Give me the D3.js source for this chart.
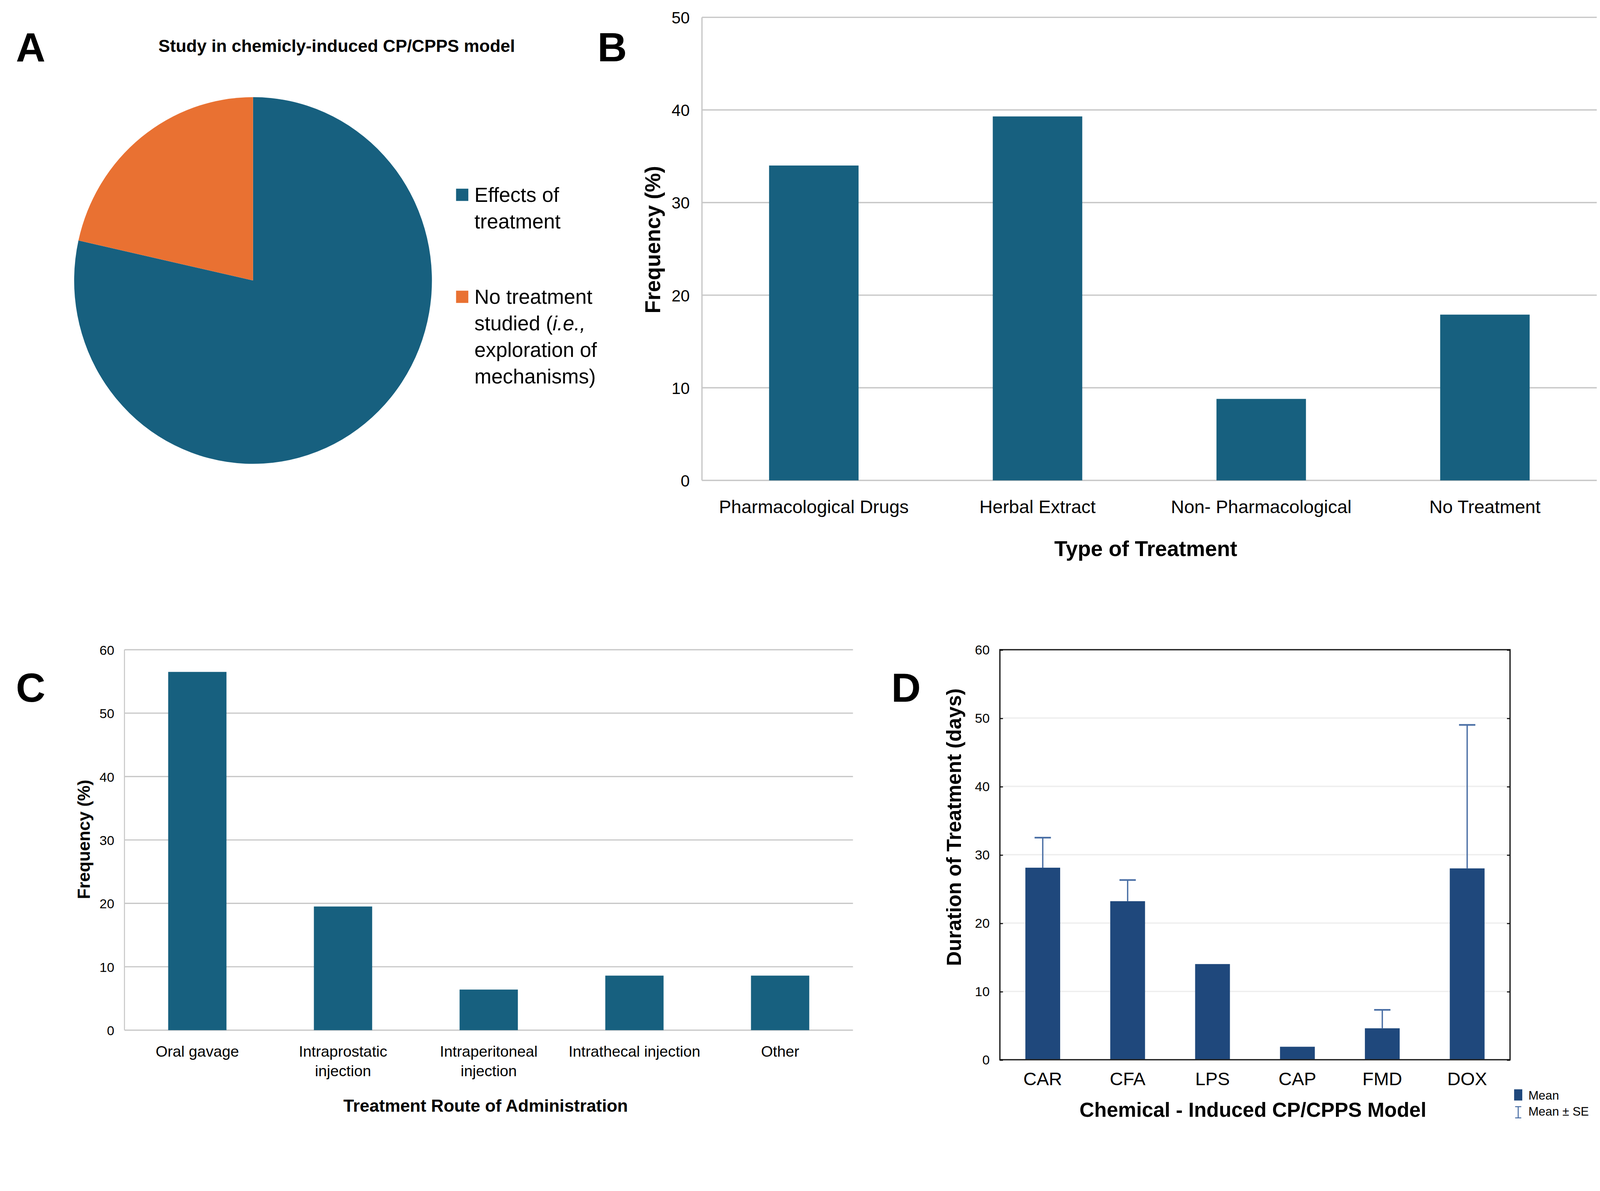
<!DOCTYPE html>
<html><head><meta charset="utf-8">
<script src="https://cdn.jsdelivr.net/npm/d3@7"></script>
<style>body{margin:0;background:#fff}text{font-family:"Liberation Sans",Arial,sans-serif}</style>
</head><body><svg id="c"></svg>
<script>
const pieLabels=["Effects of treatment","No treatment studied"];
const pieValues=[78.5,21.5];
const bCats=["Pharmacological Drugs","Herbal Extract","Non- Pharmacological","No Treatment"];
const bVals=[34.0,39.3,8.8,17.9];
const bTicks=[0,10,20,30,40,50];
const cCats=[["Oral gavage"],["Intraprostatic","injection"],["Intraperitoneal","injection"],["Intrathecal injection"],["Other"]];
const cVals=[56.5,19.5,6.4,8.6,8.6];
const cTicks=[0,10,20,30,40,50,60];
const dCats=["CAR","CFA","LPS","CAP","FMD","DOX"];
const dMeans=[28.1,23.2,14.0,1.9,4.6,28.0];
const dSEUpper=[32.5,26.3,null,null,7.3,49.0];
const dTicks=[0,10,20,30,40,50,60];

const W=1568*1.057,H=W*3050/4329;
const svg=d3.select("#c").attr("width",4329).attr("height",3050).attr("viewBox",`0 0 ${W} ${H}`);
const teal="#17607f",orange="#e97132",navy="#1f487c";
function letter(t,x,y){svg.append("text").attr("x",x).attr("y",y).attr("font-size",40).attr("font-weight","bold").attr("text-anchor","middle").text(t);}
letter("A",30,60);letter("B",600,60);letter("C",30,688);letter("D",888,688);

// Panel A
svg.append("text").attr("x",330).attr("y",51).attr("text-anchor","middle").attr("font-size",17).attr("font-weight","bold").text("Study in chemicly-induced CP/CPPS model");
const pie=d3.pie().sort(null)(pieValues);
const arc=d3.arc().innerRadius(0).outerRadius(178);
svg.append("g").attr("transform","translate(248,275) scale(0.985,1.01)").selectAll("path").data(pie).join("path")
 .attr("d",arc).attr("fill",(d,i)=>i?orange:teal);
const lg=svg.append("g").attr("font-size",20);
[[191,["Effects of","treatment"]],[291,["No treatment","studied (","exploration of","mechanisms)"]]].forEach(([y,lines],i)=>{
 lg.append("rect").attr("x",447).attr("y",y-6).attr("width",12).attr("height",12).attr("fill",i?orange:teal);
 lines.forEach((l,j)=>{const t=lg.append("text").attr("x",465).attr("y",y+7+j*26).text(l);
  if(l==="studied ("){t.append("tspan").attr("font-style","italic").text("i.e.,");}});
});

// Panel B
{const x=d3.scaleBand().domain(bCats).range([688,1565]).paddingInner(0.6).paddingOuter(0.3);
 const y=d3.scaleLinear().domain([0,50]).range([471,17]);
 const g=svg.append("g");
 g.selectAll("line.g").data(bTicks).join("line").attr("x1",688).attr("x2",1565).attr("y1",d=>y(d)).attr("y2",d=>y(d)).attr("stroke","#c8c8c8").attr("stroke-width",1.3);
 g.append("line").attr("x1",688).attr("x2",688).attr("y1",17).attr("y2",471).attr("stroke","#c8c8c8").attr("stroke-width",1.3);
 g.selectAll("rect").data(bVals).join("rect").attr("x",(d,i)=>x(bCats[i])).attr("width",x.bandwidth()).attr("y",d=>y(d)).attr("height",d=>471-y(d)).attr("fill",teal);
 g.selectAll("text.t").data(bTicks).join("text").attr("x",676).attr("y",d=>y(d)+6).attr("text-anchor","end").attr("font-size",16).text(d=>d);
 g.selectAll("text.c").data(bCats).join("text").attr("x",d=>x(d)+x.bandwidth()/2).attr("y",503).attr("text-anchor","middle").attr("font-size",18).text(d=>d);
 g.append("text").attr("x",1123).attr("y",545).attr("text-anchor","middle").attr("font-size",21).attr("font-weight","bold").text("Type of Treatment");
 g.append("text").attr("transform","translate(647,235) rotate(-90)").attr("text-anchor","middle").attr("font-size",21).attr("font-weight","bold").text("Frequency (%)");
}
// Panel C
{const x=d3.scaleBand().domain(d3.range(5)).range([122,836]).paddingInner(0.6).paddingOuter(0.3);
 const y=d3.scaleLinear().domain([0,60]).range([1010,637]);
 const g=svg.append("g");
 g.selectAll("line.g").data(cTicks).join("line").attr("x1",122).attr("x2",836).attr("y1",d=>y(d)).attr("y2",d=>y(d)).attr("stroke","#c8c8c8").attr("stroke-width",1.2);
 g.append("line").attr("x1",122).attr("x2",122).attr("y1",637).attr("y2",1010).attr("stroke","#c8c8c8");
 g.selectAll("rect").data(cVals).join("rect").attr("x",(d,i)=>x(i)).attr("width",x.bandwidth()).attr("y",d=>y(d)).attr("height",d=>1010-y(d)).attr("fill",teal);
 g.selectAll("text.t").data(cTicks).join("text").attr("x",112).attr("y",d=>y(d)+5).attr("text-anchor","end").attr("font-size",13).text(d=>d);
 cCats.forEach((c,i)=>c.forEach((l,j)=>g.append("text").attr("x",x(i)+x.bandwidth()/2).attr("y",1036+j*19).attr("text-anchor","middle").attr("font-size",15).text(l)));
 g.append("text").attr("x",476).attr("y",1090).attr("text-anchor","middle").attr("font-size",17).attr("font-weight","bold").text("Treatment Route of Administration");
 g.append("text").attr("transform","translate(88,823) rotate(-90)").attr("text-anchor","middle").attr("font-size",17).attr("font-weight","bold").text("Frequency (%)");
}
// Panel D
{const x=d3.scaleBand().domain(dCats).range([980,1480]).paddingInner(0.59).paddingOuter(0.3);
 const y=d3.scaleLinear().domain([0,60]).range([1039,637]);
 const g=svg.append("g");
 g.selectAll("line.g").data(dTicks.slice(1,-1)).join("line").attr("x1",980).attr("x2",1480).attr("y1",d=>y(d)).attr("y2",d=>y(d)).attr("stroke","#eeeeee").attr("stroke-width",1.3);
 g.selectAll("rect").data(dMeans).join("rect").attr("x",(d,i)=>x(dCats[i])).attr("width",x.bandwidth()).attr("y",d=>y(d)).attr("height",d=>1039-y(d)).attr("fill",navy);
 dSEUpper.forEach((u,i)=>{if(u==null)return;const cx=x(dCats[i])+x.bandwidth()/2;
  g.append("line").attr("x1",cx).attr("x2",cx).attr("y1",y(dMeans[i])).attr("y2",y(u)).attr("stroke","#4a6fa5").attr("stroke-width",1.3);
  g.append("line").attr("x1",cx-8).attr("x2",cx+8).attr("y1",y(u)).attr("y2",y(u)).attr("stroke","#4a6fa5").attr("stroke-width",1.6);});
 g.append("rect").attr("x",980).attr("y",637).attr("width",500).attr("height",402).attr("fill","none").attr("stroke","#222").attr("stroke-width",1.3);
 g.append("g").attr("transform","translate(980,0)").call(d3.axisLeft(y).tickValues(dTicks).tickSize(-3).tickFormat(d=>d)).call(a=>{a.select(".domain").remove();a.selectAll("text").attr("font-size",13).attr("x",-10);});
 g.append("g").attr("transform","translate(1480,0)").call(d3.axisRight(y).tickValues(dTicks).tickSize(-3).tickFormat("")).call(a=>a.select(".domain").remove());
 g.selectAll("text.c").data(dCats).join("text").attr("x",d=>x(d)+x.bandwidth()/2).attr("y",1064).attr("text-anchor","middle").attr("font-size",18).text(d=>d);
 g.append("text").attr("x",1228).attr("y",1095).attr("text-anchor","middle").attr("font-size",20).attr("font-weight","bold").text("Chemical - Induced CP/CPPS Model");
 g.append("text").attr("transform","translate(942,811) rotate(-90)").attr("text-anchor","middle").attr("font-size",20).attr("font-weight","bold").text("Duration of Treatment (days)");
 g.append("rect").attr("x",1484).attr("y",1068).attr("width",8).attr("height",11).attr("fill",navy);
 g.append("text").attr("x",1498).attr("y",1078).attr("font-size",12).text("Mean");
 g.append("path").attr("d","M1485,1085H1491M1488,1085V1096M1485,1096H1491").attr("stroke","#4a6fa5").attr("fill","none");
 g.append("text").attr("x",1498).attr("y",1094).attr("font-size",12).text("Mean ± SE");
}
</script></body></html>
